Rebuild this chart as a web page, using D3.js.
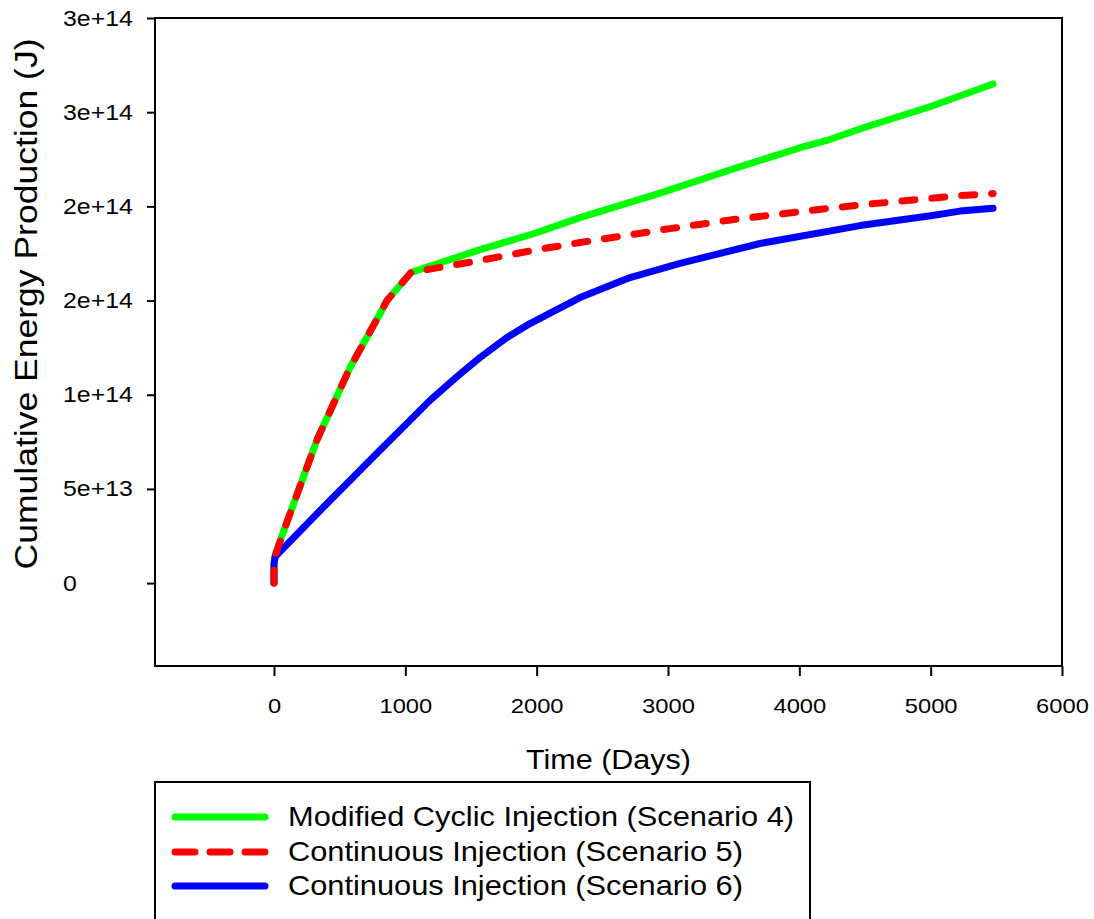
<!DOCTYPE html>
<html><head><meta charset="utf-8">
<script src="https://cdn.jsdelivr.net/npm/d3@7"></script>
<style>body{margin:0;background:#fff}svg{display:block}text{font-family:"Liberation Sans",Arial,sans-serif;fill:#000}</style>
</head><body>
<svg id="c" width="1094" height="919"></svg>
<script>
// ---- data ----
const s4Days = [0, 0, 8, 68, 327, 579, 807, 860, 1045, 1570, 2000, 2330, 2940, 3500, 4000, 4210, 4500, 5000, 5475];
const s4Vals = [0, 1.0e13, 1.45e13, 2.65e13, 7.6e13, 1.145e14, 1.43e14, 1.5e14, 1.65e14, 1.77e14, 1.86e14, 1.94e14, 2.07e14, 2.2e14, 2.31e14, 2.35e14, 2.42e14, 2.53e14, 2.65e14];
const s5Days = [0, 0, 8, 68, 327, 579, 807, 860, 1045, 1570, 2000, 2330, 3015, 3500, 4081, 4500, 5223, 5475];
const s5Vals = [0, 1.0e13, 1.45e13, 2.65e13, 7.6e13, 1.145e14, 1.43e14, 1.5e14, 1.65e14, 1.713e14, 1.77e14, 1.808e14, 1.882e14, 1.93e14, 1.978e14, 2.01e14, 2.057e14, 2.068e14];
const s6Days = [0, 0, 8, 400, 807, 1188, 1400, 1569, 1774, 1949, 2330, 2711, 3091, 3700, 4462, 5000, 5223, 5475];
const s6Vals = [0, 1.0e13, 1.4e13, 4.2e13, 7.05e13, 9.7e13, 1.1e14, 1.198e14, 1.304e14, 1.378e14, 1.516e14, 1.622e14, 1.697e14, 1.803e14, 1.898e14, 1.95e14, 1.975e14, 1.99e14];
const xTicks = [0, 1000, 2000, 3000, 4000, 5000, 6000];
const yTicks = [0, 5e13, 1e14, 1.5e14, 2e14, 2.5e14, 3e14];
const yTickLabels = ["0", "5e+13", "1e+14", "2e+14", "2e+14", "3e+14", "3e+14"];
const seriesNames = ["Modified Cyclic Injection (Scenario 4)", "Continuous Injection (Scenario 5)", "Continuous Injection (Scenario 6)"];
const seriesColors = ["#00ff00", "#ff0000", "#0000ff"];

// ---- layout ----
const L = 155, R = 1062, T = 18, B = 666;
const SX = 1.13; // horizontal stretch of the text
const svg = d3.select("#c");
const x = d3.scaleLinear().domain([-906, 6000]).range([L, R]);
const y = d3.scaleLinear().domain([-4.4e13, 3e14]).range([B, T]);

// frame
svg.append("rect").attr("x", L).attr("y", T).attr("width", R - L).attr("height", B - T)
  .attr("fill", "none").attr("stroke", "#000").attr("stroke-width", 2);

const xAxis = svg.append("g").attr("transform", `translate(0,${B})`)
  .call(d3.axisBottom(x).tickValues(xTicks).tickSize(10).tickPadding(22).tickFormat(d3.format("d")));
const yAxis = svg.append("g").attr("transform", `translate(${L},0)`)
  .call(d3.axisLeft(y).tickValues(yTicks).tickSize(8).tickPadding(14).tickFormat((d, i) => yTickLabels[i]));
xAxis.attr("font-size", 21).attr("font-family", null);
yAxis.attr("font-size", 22).attr("font-family", null);
[xAxis, yAxis].forEach(g => {
  g.select(".domain").remove();
  g.selectAll(".tick line").attr("stroke", "#000").attr("stroke-width", 2);
});
xAxis.selectAll(".tick text").attr("transform", `scale(${SX},1)`);
// y tick labels are left-aligned in the reference
yAxis.selectAll(".tick text").attr("x", 0).attr("text-anchor", "start")
  .attr("transform", `translate(-92,0) scale(${SX},1)`);

// axis titles
svg.append("text").attr("transform", `translate(${(L + R) / 2},769) scale(${SX},1)`).attr("text-anchor", "middle")
  .style("font-size", "27px").text("Time (Days)");
svg.append("text").attr("transform", `translate(37,304) rotate(-90) scale(1.11,1)`).attr("text-anchor", "middle")
  .style("font-size", "32px").text("Cumulative Energy Production (J)");

// lines
const line = d3.line().x(d => x(d[0])).y(d => y(d[1]));
const series = [
  { days: s4Days, vals: s4Vals, color: seriesColors[0], dash: null },
  { days: s6Days, vals: s6Vals, color: seriesColors[2], dash: null },
  { days: s5Days, vals: s5Vals, color: seriesColors[1], dash: "13,17" }
];
series.forEach(s => {
  const pts = s.days.map((d, j) => [d, s.vals[j]]);
  svg.append("path").datum(pts).attr("d", line).attr("fill", "none")
    .attr("stroke", s.color).attr("stroke-width", 7)
    .attr("stroke-linecap", "round").attr("stroke-linejoin", "round")
    .attr("stroke-dasharray", s.dash);
});

// legend
const lg = svg.append("g");
lg.append("rect").attr("x", 155).attr("y", 782).attr("width", 655).attr("height", 160)
  .attr("fill", "#fff").attr("stroke", "#000").attr("stroke-width", 2);
const legY = [817, 852, 886];
const legDash = [null, "20,15", null];
seriesNames.forEach((name, i) => {
  lg.append("line").attr("x1", 175).attr("x2", 265).attr("y1", legY[i]).attr("y2", legY[i])
    .attr("stroke", seriesColors[i]).attr("stroke-width", 7).attr("stroke-linecap", "round")
    .attr("stroke-dasharray", legDash[i]);
  lg.append("text").attr("transform", `translate(288,${legY[i]}) scale(1.14,1)`).attr("dy", "0.35em")
    .style("font-size", "27px").text(name);
});
</script>
</body></html>
